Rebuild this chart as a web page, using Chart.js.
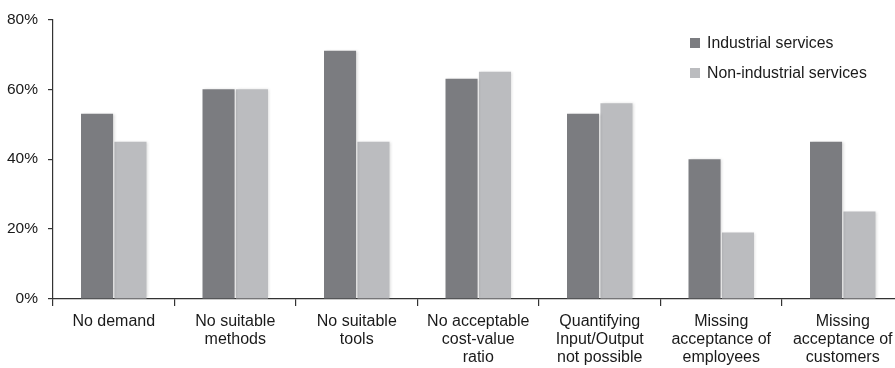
<!DOCTYPE html>
<html lang="en">
<head>
  <meta charset="UTF-8">
  <title>Barriers to service productivity measurement</title>
  <script src="https://cdn.jsdelivr.net/npm/chart.js"></script>
  <style>
    html, body {
      margin: 0;
      padding: 0;
      background: #fff;
      overflow: hidden;
      font-family: "Liberation Sans", Arial, sans-serif;
    }
    .wrap {
      position: relative;
      width: 895px;
      height: 368px;
      overflow: hidden;
    }
    #barChart {
      position: absolute;
      left: 0;
      top: 0;
    }
    .legend {
      position: absolute;
      left: 690px;
      top: 32px;
      font-size: 15.8px;
      color: #1a1a1a;
    }
    .legend div {
      height: 30px;
      line-height: 21px;
      white-space: nowrap;
    }
    .legend span {
      display: inline-block;
      width: 10px;
      height: 10px;
      margin-right: 7px;
      vertical-align: 0px;
    }
  </style>
</head>
<body>
  <div class="wrap">
    <canvas id="barChart" width="910" height="368"></canvas>
    <div class="legend" id="legend"></div>
  </div>

  <script>
    const categories = [
      ['No demand'],
      ['No suitable', 'methods'],
      ['No suitable', 'tools'],
      ['No acceptable', 'cost-value', 'ratio'],
      ['Quantifying', 'Input/Output', 'not possible'],
      ['Missing', 'acceptance of', 'employees'],
      ['Missing', 'acceptance of', 'customers']
    ];
    const seriesNames = ['Industrial services', 'Non-industrial services'];
    const industrial = [53, 60, 71, 63, 53, 40, 45];
    const nonIndustrial = [45, 60, 45, 65, 56, 19, 25];
    const yTicks = [0, 20, 40, 60, 80];
    const colors = ['#7b7c80', '#bbbcbf'];

    // soft edge around the bars
    const barShadow = {
      id: 'barShadow',
      beforeDatasetsDraw(chart) {
        const ctx = chart.ctx;
        ctx.save();
        ctx.shadowColor = 'rgba(0, 0, 0, 0.16)';
        ctx.shadowBlur = 3;
        ctx.shadowOffsetX = 1.5;
      },
      afterDatasetsDraw(chart) {
        chart.ctx.restore();
      }
    };

    const legendEl = document.getElementById('legend');
    seriesNames.forEach((name, i) => {
      const row = document.createElement('div');
      row.innerHTML = `<span style="background:${colors[i]}"></span>${name}`;
      legendEl.appendChild(row);
    });

    const ctx = document.getElementById('barChart').getContext('2d');
    new Chart(ctx, {
      type: 'bar',
      data: {
        labels: categories,
        datasets: [
          {
            label: seriesNames[0],
            data: industrial,
            backgroundColor: colors[0],
            categoryPercentage: 0.55,
            barPercentage: 0.96
          },
          {
            label: seriesNames[1],
            data: nonIndustrial,
            backgroundColor: colors[1],
            categoryPercentage: 0.55,
            barPercentage: 0.96
          }
        ]
      },
      options: {
        responsive: false,
        animation: false,
        layout: { padding: { top: 16, right: 6.5, left: 0, bottom: 0 } },
        plugins: {
          legend: { display: false },
          tooltip: { enabled: false }
        },
        scales: {
          x: {
            offset: true,
            grid: {
              offset: true,
              drawOnChartArea: false,
              tickLength: 7,
              color: '#333',
              lineWidth: 1.2
            },
            border: { color: '#333', width: 1.2 },
            ticks: {
              color: '#1a1a1a',
              font: { family: 'Liberation Sans', size: 16, lineHeight: 1.125 },
              padding: 7,
              maxRotation: 0,
              autoSkip: false
            },
            afterFit: scale => { scale.height = 69; }
          },
          y: {
            min: 0,
            max: 80,
            afterBuildTicks: scale => {
              scale.ticks = yTicks.map(v => ({ value: v }));
            },
            grid: {
              drawOnChartArea: false,
              tickLength: 5,
              color: '#333',
              lineWidth: 1.2
            },
            border: { color: '#333', width: 1.2 },
            ticks: {
              color: '#1a1a1a',
              font: { family: 'Liberation Sans', size: 15.5 },
              padding: 10,
              callback: v => v + '%'
            },
            afterFit: scale => { scale.width = 53; }
          }
        }
      },
      plugins: [barShadow]
    });
  </script>
</body>
</html>
